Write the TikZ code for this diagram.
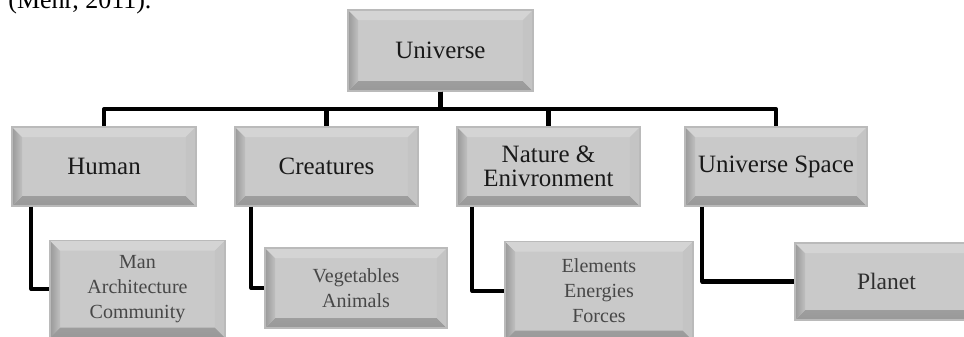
\documentclass[tikz,border=0pt]{standalone}
\usepackage{fontspec}
\setmainfont{Liberation Serif}
\usetikzlibrary{calc}

\begin{document}
\begin{tikzpicture}[
    x=0.02cm, y=-0.02cm, % 像素坐标:y 轴向下
    conn/.style={black, line width=2.3pt, line join=round}, % 连接线:粗黑线
    box/.style={draw=black!27, line width=0.7pt, fill=black!21, inner sep=0pt, align=center,
        path picture={
            % 下斜边
            \shade[top color=black!25, bottom color=black!40]
                (path picture bounding box.south west) -- (path picture bounding box.south east)
                -- ([shift={(-0.2cm,0.2cm)}]path picture bounding box.south east)
                -- ([shift={(0.2cm,0.2cm)}]path picture bounding box.south west) -- cycle;
            % 左斜边
            \shade[left color=black!40, right color=black!25]
                (path picture bounding box.south west) -- (path picture bounding box.north west)
                -- ([shift={(0.2cm,-0.2cm)}]path picture bounding box.north west)
                -- ([shift={(0.2cm,0.2cm)}]path picture bounding box.south west) -- cycle;
            % 上斜边
            \fill[black!17]
                (path picture bounding box.north west) -- (path picture bounding box.north east)
                -- ([shift={(-0.2cm,-0.2cm)}]path picture bounding box.north east)
                -- ([shift={(0.2cm,-0.2cm)}]path picture bounding box.north west) -- cycle;
            % 右斜边
            \fill[black!23]
                (path picture bounding box.north east) -- (path picture bounding box.south east)
                -- ([shift={(-0.2cm,0.2cm)}]path picture bounding box.south east)
                -- ([shift={(-0.2cm,-0.2cm)}]path picture bounding box.north east) -- cycle;
        }},
    topbox/.style={box, font=\fontsize{14.2}{13.7}\selectfont, text=black!90}, % 上层方框
    subbox/.style={box, font=\fontsize{11.4}{14.2}\selectfont, text=black!72}  % 下层方框
]
    \useasboundingbox (0,0) rectangle (964,336);
    \clip (0,0) rectangle (964,336);

    % 1. 顶部被裁掉的引用文字
    \node[anchor=base west, inner sep=0pt, font=\fontsize{14.8}{16}\selectfont] (cite) at (8,8) {(Mehr, 2011).};

    % 2. 根节点与第一层
    \node[topbox, minimum width=3.7cm, minimum height=1.62cm] (uni) at (440.5,50.5) {Universe};
    \node[topbox, minimum width=3.68cm, minimum height=1.58cm] (human) at (104,166.5) {Human};
    \node[topbox, minimum width=3.66cm, minimum height=1.58cm] (creat) at (326.5,166.5) {Creatures};
    \node[topbox, minimum width=3.66cm, minimum height=1.58cm] (nature) at (548.5,166.5) {Nature \&\\Enivronment};
    \node[topbox, minimum width=3.64cm, minimum height=1.58cm] (space) at (776,166.5) {Universe Space};

    % 3. 第二层
    \node[subbox, minimum width=3.5cm, minimum height=1.94cm] (man) at (137.5,289) {Man\\Architecture\\Community};
    \node[subbox, minimum width=3.64cm, minimum height=1.6cm] (veg) at (356,288) {Vegetables\\Animals};
    \node[subbox, minimum width=3.76cm, minimum height=1.98cm] (elem) at (599,291) {Elements\\Energies\\Forces};
    \node[subbox, minimum width=3.66cm, minimum height=1.54cm, font=\fontsize{13.4}{15}\selectfont, text=black!82] (planet) at (886.5,281.5) {Planet};

    % 4. 连接线
    \foreach \c in {human, creat, nature, space} {
        \draw[conn] (uni.south) -- ++(0,17.5) -| (\c.north);
    }
    \draw[conn] ($(human.south west)+(20,0)$) |- (man.west);
    \draw[conn] ($(creat.south west)+(17,0)$) |- (veg.west);
    \draw[conn] ($(nature.south west)+(16,0)$) |- (elem.west);
    \draw[conn] ($(space.south west)+(18,0)$) |- (planet.west);
\end{tikzpicture}
\end{document}
